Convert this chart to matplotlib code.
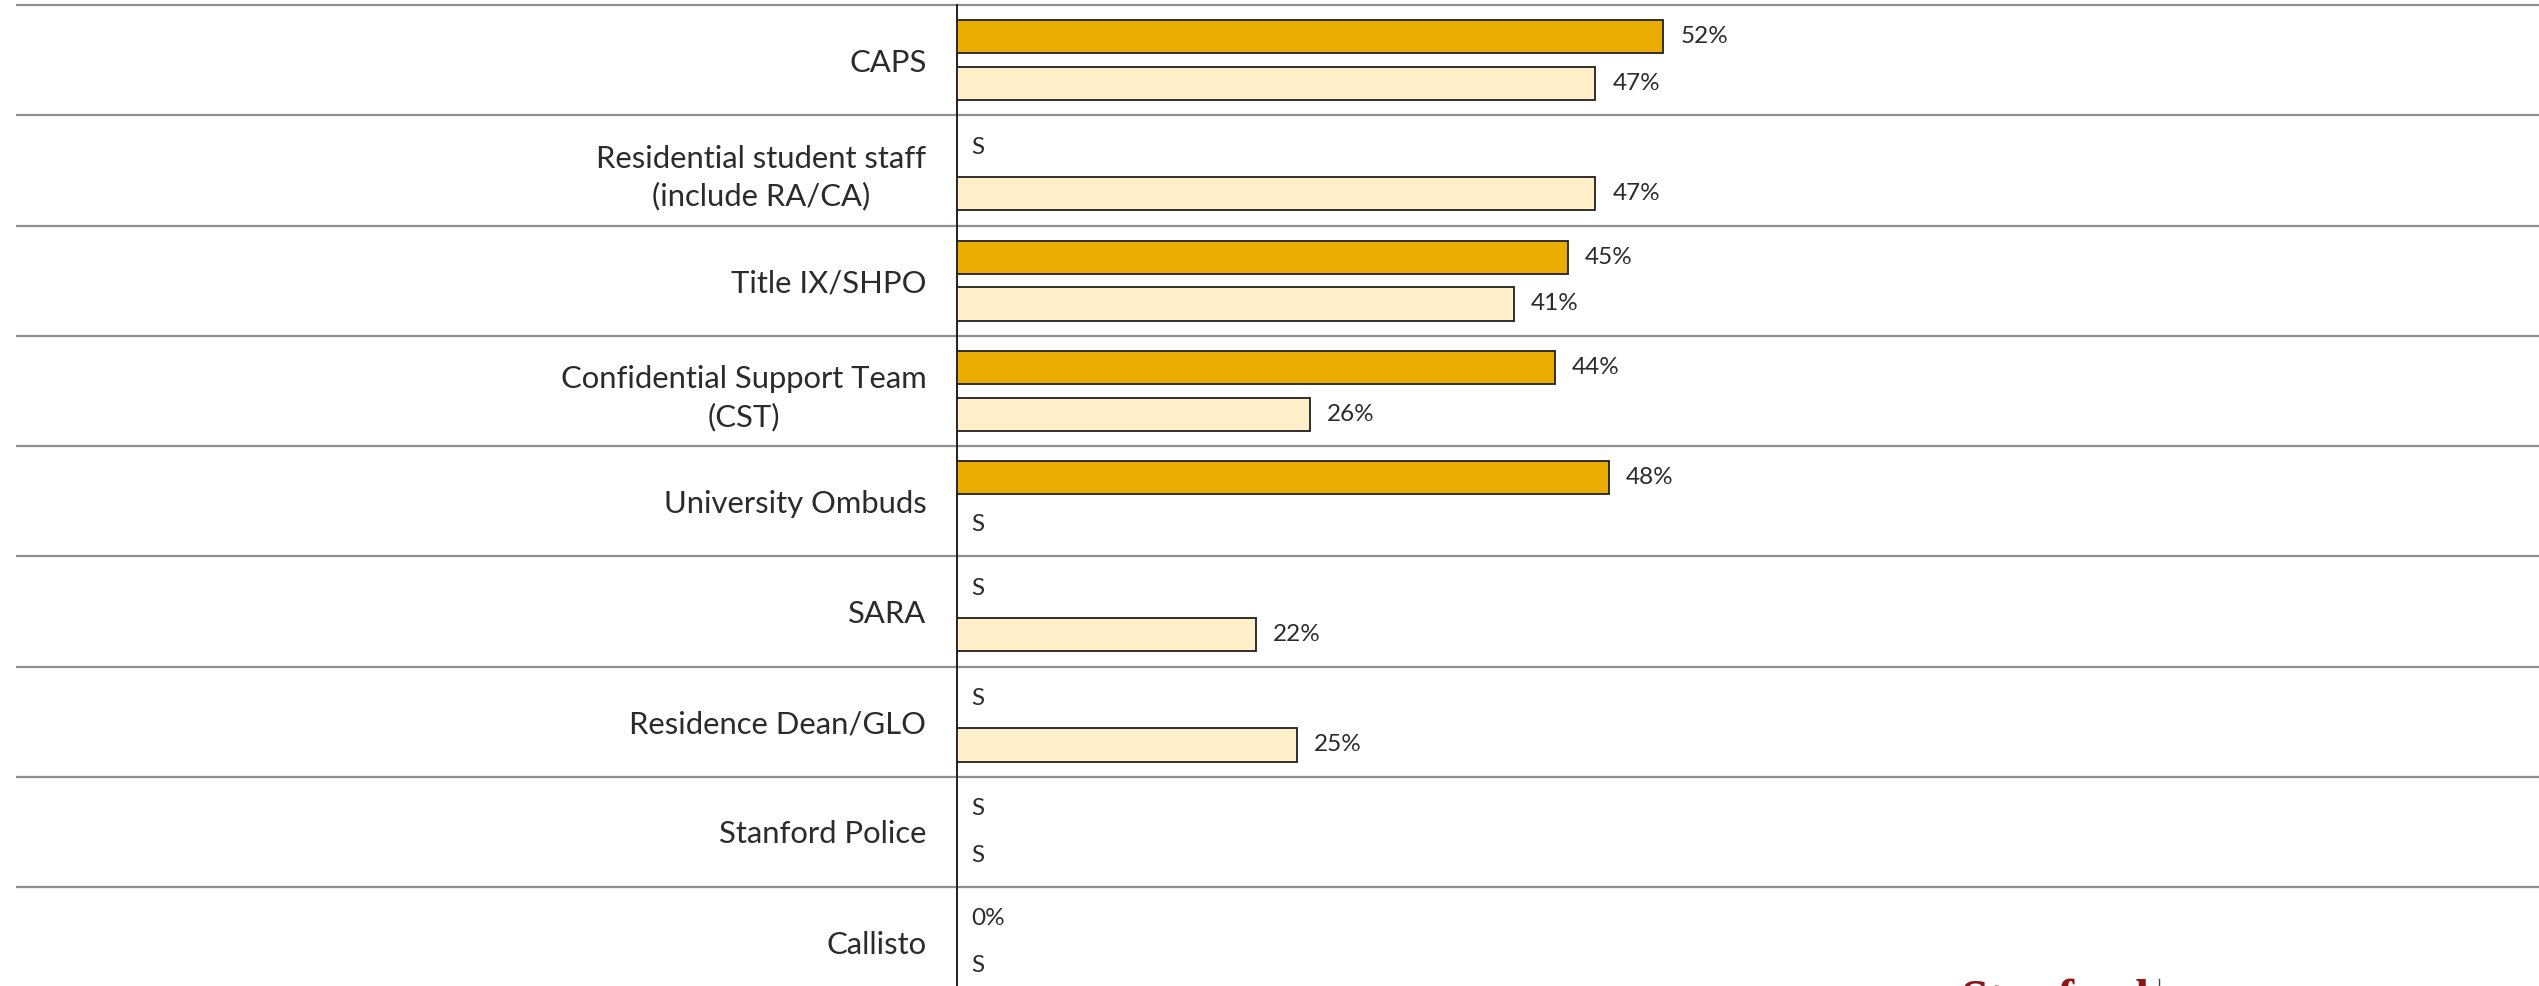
import matplotlib
matplotlib.use('Agg')
import matplotlib.pyplot as plt
from matplotlib.lines import Line2D

# data; None = suppressed result ("S")
categories = ['CAPS', 'Residential student staff\n(include RA/CA)', 'Title IX/SHPO',
              'Confidential Support Team\n(CST)', 'University Ombuds', 'SARA',
              'Residence Dean/GLO', 'Stanford Police', 'Callisto']
series_dark = [52, None, 45, 44, 48, None, None, None, 0]
series_light = [47, 47, 41, 26, None, 22, 25, None, None]

GOLD = '#E8AD00'
CREAM = '#FFF0CA'
EDGE = '#231F20'
TXT = '#2B2B2B'
plt.rcParams['font.family'] = ['Lato', 'DejaVu Sans']

W, H = 2539, 986
fig = plt.figure(figsize=(W / 100, H / 100), dpi=100)
ax = fig.add_axes([957 / W, 0, 1 - 957 / W, 981 / H])

row_px = 110.25
off, bh = 0.212, 0.30
vfs = 17.5

for i in range(len(categories)):
    for val, dy, col in ((series_dark[i], -off, GOLD), (series_light[i], off, CREAM)):
        y = i + dy
        if val is None:
            ax.annotate('S', (0, y), xytext=(14, 0), textcoords='offset pixels',
                        va='center', ha='left', fontsize=vfs, color=TXT)
            continue
        if val > 0:
            ax.barh(y, val, height=bh, color=col, edgecolor=EDGE, linewidth=1.3, zorder=3)
            ax.annotate(f'{val}%', (val, y), xytext=(17, 0), textcoords='offset pixels',
                        va='center', ha='left', fontsize=vfs, color=TXT)
        else:
            ax.annotate(f'{val}%', (0, y), xytext=(14, 0), textcoords='offset pixels',
                        va='center', ha='left', fontsize=vfs, color=TXT)

# row separators, running out into the label area
for i in range(len(categories)):
    ax.hlines(i - 0.5, -0.595, 1, transform=ax.get_yaxis_transform(),
              color='#8F8F8F', linewidth=1.6, clip_on=False, zorder=1)

ax.set_xlim(0, 1582 / 13.58)
ax.set_ylim(-0.5 + 981 / row_px, -0.5)
ax.set_yticks(range(len(categories)))
ax.set_yticklabels(categories, fontsize=22.3, color=TXT)
for t in ax.get_yticklabels():
    t.set_multialignment('center')
    t.set_linespacing(1.4)
ax.tick_params(axis='y', length=0, pad=22)
ax.set_xticks([])
for s in ['top', 'right', 'bottom']:
    ax.spines[s].set_visible(False)
ax.spines['left'].set_color(EDGE)
ax.spines['left'].set_linewidth(1.4)

# logo peeking in at the bottom edge
fig.text(1960 / W, 1 - 978 / H, 'Stanford', family='Liberation Serif', fontweight='bold',
         fontsize=36, color='#8C1515', va='top', ha='left')
fig.add_artist(Line2D([2159 / W] * 2, [0, 1 - 979 / H], color='#444444', linewidth=1))

fig.savefig('out.png', dpi=100)
